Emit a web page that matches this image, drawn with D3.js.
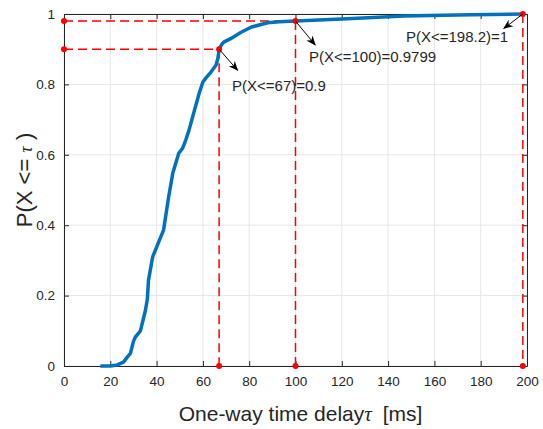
<!DOCTYPE html>
<html lang="en">
<head>
<meta charset="UTF-8">
<title>One-way delay CDF</title>
<script src="https://d3js.org/d3.v7.min.js"></script>
<style>
  body { margin: 0; background: #fff; }
  text { font-family: "Liberation Sans", Arial, sans-serif; fill: #262626; }
</style>
</head>
<body>
<svg id="chart" width="543" height="429"></svg>
<script>
const delays = [15.7, 20, 23, 25.7, 27.4, 28.7, 30, 30.9, 33, 34.5, 35.2, 36, 36.5, 38.3, 40.4, 43, 45.2, 47, 49.6, 51.2, 52.6, 54, 56, 58.4, 60, 61.5, 63.5, 65.7, 66.5, 67, 68, 69, 72, 76.5, 81, 88, 93, 100, 120, 147, 176, 198.2];
const cdf    = [0, 0, 0.003, 0.011, 0.026, 0.036, 0.07, 0.083, 0.1, 0.14, 0.159, 0.19, 0.244, 0.31, 0.344, 0.386, 0.48, 0.548, 0.605, 0.618, 0.642, 0.67, 0.718, 0.775, 0.807, 0.82, 0.835, 0.855, 0.875, 0.9, 0.912, 0.92, 0.93, 0.948, 0.963, 0.975, 0.978, 0.9799, 0.986, 0.994, 0.998, 1];

// marked points and their notes
const markX = [67, 100, 198.2];
const markP = [0.9, 0.9799, 1];
const notes = ["P(X<=67)=0.9", "P(X<=100)=0.9799", "P(X<=198.2)=1"];
const noteX = [72.6, 105.8, 147.7];      // data coords of text start
const noteP = [0.781, 0.864, 0.920];
const arrowEndX = [75, 108.5, 190];
const arrowEndP = [0.84, 0.912, 0.959];

const xTicks = d3.range(0, 201, 20);
const yTicks = [0, 0.2, 0.4, 0.6, 0.8, 1];

const svg = d3.select("#chart");
const margin = { top: 14, right: 16, bottom: 63, left: 64 };
const W = +svg.attr("width"), H = +svg.attr("height");

const x = d3.scaleLinear().domain([0, 200]).range([margin.left, W - margin.right]);
const y = d3.scaleLinear().domain([0, 1]).range([H - margin.bottom, margin.top]);

// grid
svg.append("g").selectAll("line").data(xTicks).join("line")
    .attr("x1", d => x(d)).attr("x2", d => x(d))
    .attr("y1", y(0)).attr("y2", y(1))
    .attr("stroke", "#e6e6e6");
svg.append("g").selectAll("line").data(yTicks).join("line")
    .attr("x1", x(0)).attr("x2", x(200))
    .attr("y1", d => y(d)).attr("y2", d => y(d))
    .attr("stroke", "#e6e6e6");

// axes (ticks inside, box on all sides)
const axStyle = g => {
    g.select(".domain").attr("stroke", "#262626");
    g.selectAll(".tick line").attr("stroke", "#262626");
    g.selectAll(".tick text").style("font-size", "13.5px").attr("fill", "#262626")
        .style("font-family", "Liberation Sans, Arial, sans-serif");
};
svg.append("g").attr("transform", `translate(0,${y(0)})`)
    .call(d3.axisBottom(x).tickValues(xTicks).tickSize(-5).tickPadding(10).tickSizeOuter(0))
    .call(axStyle);
svg.append("g").attr("transform", `translate(0,${y(1)})`)
    .call(d3.axisTop(x).tickValues(xTicks).tickSize(-5).tickFormat("").tickSizeOuter(0))
    .call(axStyle);
svg.append("g").attr("transform", `translate(${x(0)},0)`)
    .call(d3.axisLeft(y).tickValues(yTicks).tickSize(-5).tickPadding(9).tickFormat(d3.format("~g")).tickSizeOuter(0))
    .call(axStyle);
svg.append("g").attr("transform", `translate(${x(200)},0)`)
    .call(d3.axisRight(y).tickValues(yTicks).tickSize(-5).tickFormat("").tickSizeOuter(0))
    .call(axStyle);

// red dashed guides
const guides = svg.append("g").attr("stroke", "#ff0000").attr("stroke-width", 1.5)
    .attr("stroke-dasharray", "9,5").attr("fill", "none");
markX.forEach((mx, i) => {
    if (markP[i] < 1) {
        guides.append("line").attr("x1", x(0)).attr("x2", x(mx))
            .attr("y1", y(markP[i])).attr("y2", y(markP[i]));
    }
    guides.append("line").attr("x1", x(mx)).attr("x2", x(mx))
        .attr("y1", y(markP[i])).attr("y2", y(0));
});

// CDF curve
svg.append("path")
    .datum(delays.map((d, i) => [d, cdf[i]]))
    .attr("fill", "none")
    .attr("stroke", "#0072BD")
    .attr("stroke-width", 3.5)
    .attr("stroke-linejoin", "round")
    .attr("d", d3.line().x(d => x(d[0])).y(d => y(d[1])));

// red dots
const dots = [];
markX.forEach((mx, i) => {
    dots.push([mx, markP[i]], [mx, 0]);
    if (markP[i] < 1) dots.push([0, markP[i]]);
});
svg.append("g").selectAll("circle").data(dots).join("circle")
    .attr("cx", d => x(d[0])).attr("cy", d => y(d[1])).attr("r", 3)
    .attr("fill", "#ff0000");

// arrows + notes
svg.append("defs").append("marker")
    .attr("id", "head").attr("viewBox", "0 0 10 10")
    .attr("refX", 9).attr("refY", 5)
    .attr("markerWidth", 10).attr("markerHeight", 10)
    .attr("orient", "auto")
    .append("path").attr("d", "M0,1 L10,5 L0,9 L3,5 Z").attr("fill", "#000");

markX.forEach((mx, i) => {
    svg.append("line")
        .attr("x1", x(mx)).attr("y1", y(markP[i]))
        .attr("x2", x(arrowEndX[i])).attr("y2", y(arrowEndP[i]))
        .attr("stroke", "#000").attr("stroke-width", 1)
        .attr("marker-end", "url(#head)");
    svg.append("text")
        .attr("x", x(noteX[i])).attr("y", y(noteP[i]))
        .style("font-size", "15px").attr("fill", "#000")
        .text(notes[i]);
});

// axis labels
const xl = svg.append("text")
    .attr("x", (x(0) + x(200)) / 2 + 5).attr("y", 421)
    .attr("text-anchor", "middle").style("font-size", "21px");
xl.append("tspan").text("One-way time delay");
xl.append("tspan").style("font-family", "Liberation Serif, serif").style("font-style", "italic").text("\u03c4");
xl.append("tspan").text("  [ms]").attr("dx", 5);

const yl = svg.append("text")
    .attr("transform", `translate(32,${(y(0) + y(1)) / 2 - 10}) rotate(-90)`)
    .attr("text-anchor", "middle").style("font-size", "22px");
yl.append("tspan").text("P(X <= ");
yl.append("tspan").style("font-family", "Liberation Serif, serif").style("font-style", "italic").style("font-size", "18px").text("\u03c4");
yl.append("tspan").text(" )");
</script>
</body>
</html>
